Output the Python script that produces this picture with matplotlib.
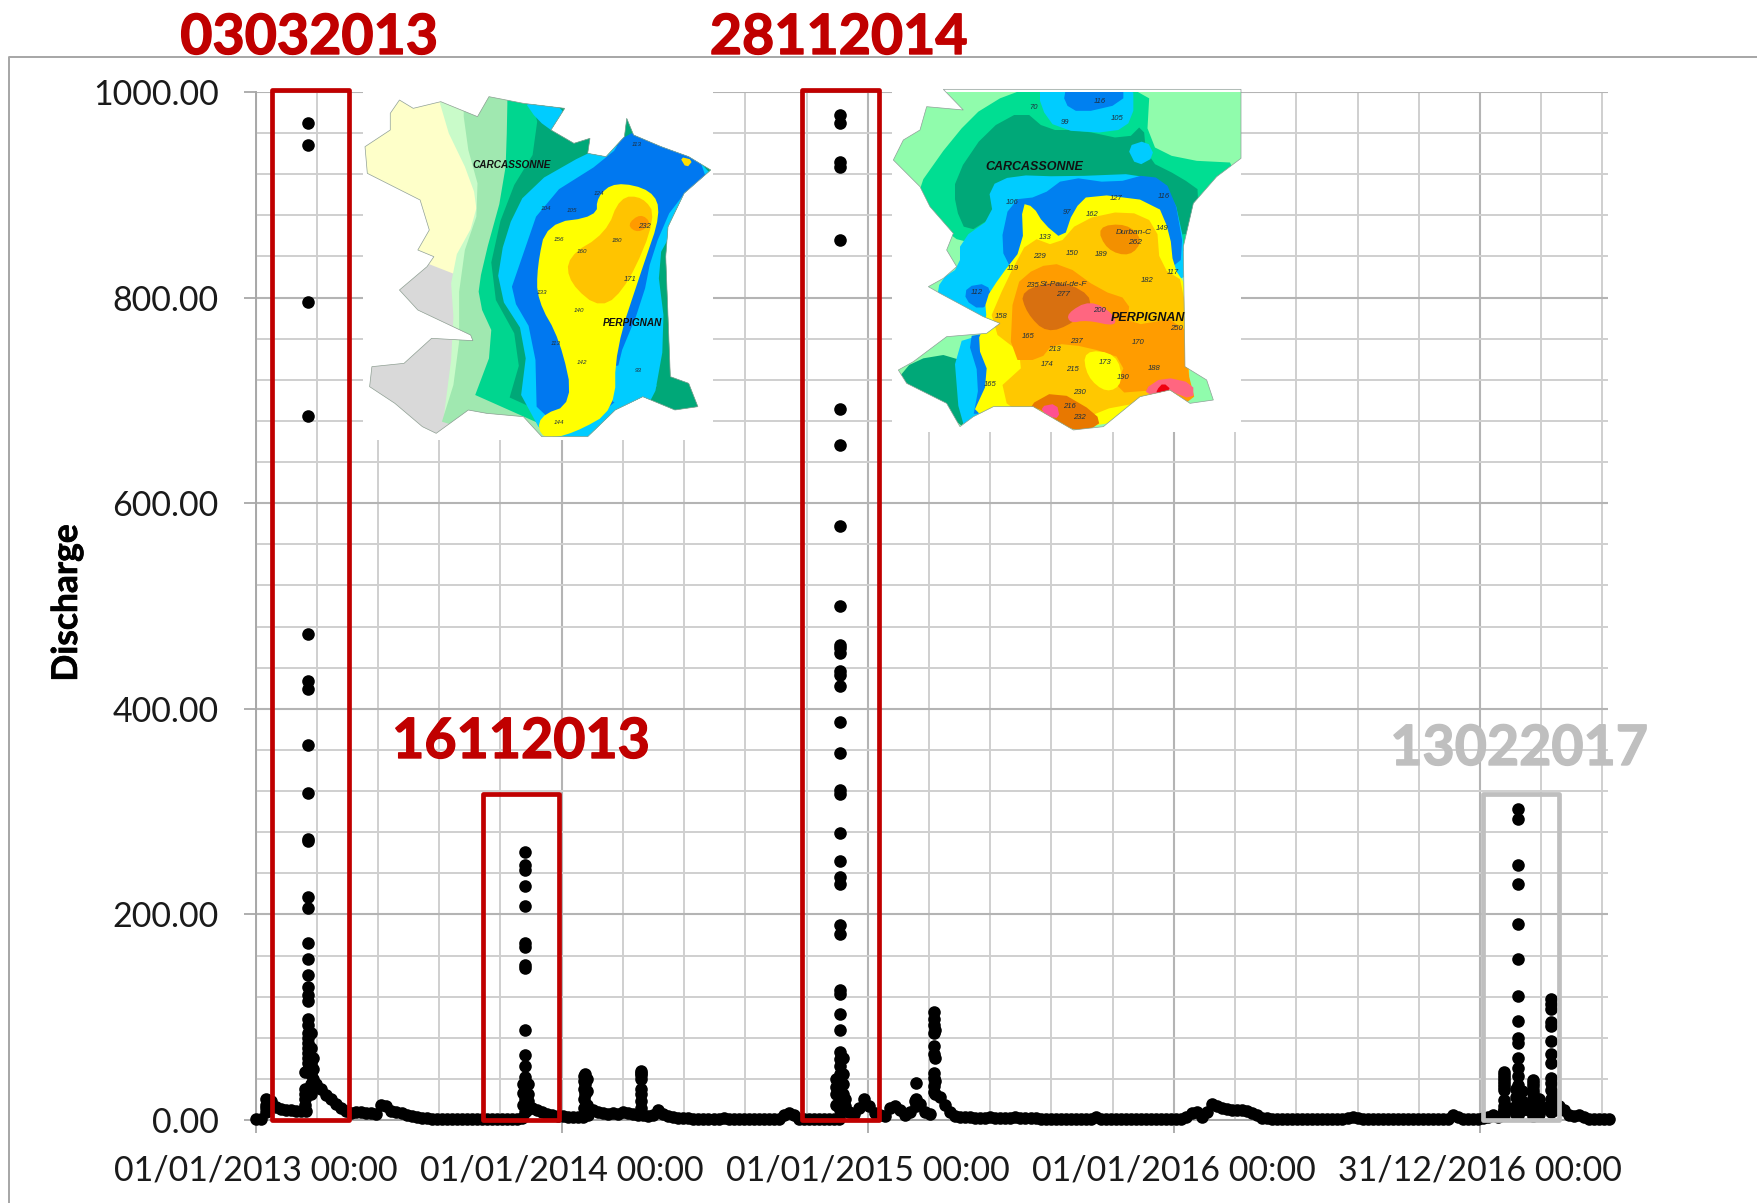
import numpy as np
import matplotlib
matplotlib.use("Agg")
import matplotlib.pyplot as plt
from matplotlib.patches import Polygon, Rectangle
from matplotlib.lines import Line2D
from matplotlib.path import Path
import matplotlib.patheffects as pe
import matplotlib.transforms as mtransforms

plt.rcParams['font.family'] = ['Lato', 'DejaVu Sans']
W, H = 1758, 1203

# ---------- data (days since 01/01/2013, discharge) ----------
tick_days = [0, 365, 730, 1095, 1460]
tick_labels = ["01/01/2013 00:00", "01/01/2014 00:00", "01/01/2015 00:00",
               "01/01/2016 00:00", "31/12/2016 00:00"]
y_ticks = [0, 200, 400, 600, 800, 1000]

# background flow, one value every 6 days
base_values = [
    1, 1, 12, 18, 13, 11, 10, 10, 9, 9,
    9, 30, 35, 30, 24, 20, 16, 12, 9, 7,
    8, 8, 7, 7, 6, 15, 14, 9, 8, 7,
    5, 4, 3, 2, 2, 1, 1, 1, 1, 1,
    1, 1, 1, 1, 1, 1, 1, 1, 1, 1,
    1, 1, 1, 2, 10, 12, 10, 8, 6, 5,
    4, 4, 3, 3, 3, 3, 5, 10, 8, 7,
    6, 7, 6, 8, 7, 6, 5, 5, 4, 5,
    10, 6, 4, 3, 2, 2, 2, 1, 1, 1,
    1, 1, 1, 2, 1, 1, 1, 1, 1, 1,
    1, 1, 1, 1, 1, 5, 7, 5, 1, 1,
    1, 1, 1, 1, 1, 1, 1, 10, 8, 6,
    12, 20, 14, 7, 5, 4, 12, 14, 10, 5,
    8, 18, 16, 8, 6, 25, 22, 15, 8, 4,
    3, 3, 3, 2, 2, 2, 3, 2, 2, 2,
    2, 3, 2, 2, 2, 2, 1, 1, 1, 1,
    1, 1, 1, 1, 1, 1, 1, 3, 1, 1,
    1, 1, 1, 1, 1, 1, 1, 1, 1, 1,
    1, 1, 1, 1, 1, 3, 7, 8, 3, 8,
    16, 14, 12, 11, 10, 10, 10, 9, 7, 5,
    2, 2, 1, 1, 1, 1, 1, 1, 1, 1,
    1, 1, 1, 1, 1, 1, 1, 2, 3, 2,
    1, 1, 1, 1, 1, 1, 1, 1, 1, 1,
    1, 1, 1, 1, 1, 1, 1, 1, 5, 3,
    1, 1, 1, 1, 2, 3, 5, 3, 10, 12,
    10, 12, 14, 10, 8, 9, 12, 14, 10, 14,
    10, 5, 4, 5, 3, 1, 1, 1, 1, 1,
]
base_step = 6

ev1_day, ev1_vals = 63, [970, 948, 796, 685, 473, 427, 419, 365, 318, 273, 271, 217, 206, 172, 157,
                         141, 129, 122, 116, 98, 92, 85, 80, 75, 70, 65, 60, 55, 50, 47]
ev2_day, ev2_vals = 321, [261, 248, 243, 228, 208, 172, 168, 151, 148, 88, 63, 53, 42, 35, 26, 20, 14, 8]
ev3_day, ev3_vals = 697, [978, 970, 932, 927, 856, 692, 657, 578, 500, 462, 459, 454, 437, 433, 422, 387,
                          357, 321, 317, 279, 252, 236, 230, 190, 181, 126, 123, 103, 88, 66, 59, 53,
                          45, 37, 31, 26, 20, 15, 10]
ev4_day, ev4_vals = 1505, [303, 293, 248, 230, 191, 157, 121, 96, 80, 75, 60, 51, 43, 34, 26, 18, 10, 5]

side_days = [12, 59, 66, 68, 319, 325, 392, 393, 395, 459, 460, 692, 700, 703, 787, 809, 810,
             1488, 1503, 1510, 1523, 1530, 1545, 1548]
side_vals = [[20, 15, 8], [47, 30, 25, 20, 15], [85, 70, 55, 45, 35, 25], [60, 50, 40],
             [35, 26, 15], [35, 25, 18, 12],
             [43, 38, 30, 20, 12], [45, 35, 25], [40, 28, 15], [48, 44, 40, 30], [46, 25, 18, 12],
             [40, 32, 25, 15], [60, 45, 35, 25, 18], [20, 14, 9],
             [36, 20, 14], [105, 98, 92, 85, 72, 64, 46, 41, 33, 27], [88, 60, 38],
             [47, 44, 41, 38, 35, 32, 29, 19, 14, 10, 5], [30, 22, 14, 6], [28, 18, 10],
             [39, 36, 33, 29, 26, 21, 16, 12, 8, 4], [20, 12, 6],
             [118, 113, 108, 95, 91, 77, 64, 55, 41, 36, 29, 20, 14, 8], [25, 15, 10]]

box_days = [(20, 111), (271, 362), (652, 743), (1463, 1554)]
box_tops = [1002, 317, 1002, 317]
box_colors = ["#C00000", "#C00000", "#C00000", "#BFBFBF"]
box_names = ["03032013", "16112013", "28112014", "13022017"]
name_xy = [(309, 38), (521, 742), (838.5, 38), (1519, 749)]

# ---------- assemble points ----------
xs = list(np.arange(len(base_values)) * base_step)
ys = list(base_values)
for d, vals in [(ev1_day, ev1_vals), (ev2_day, ev2_vals), (ev3_day, ev3_vals), (ev4_day, ev4_vals)]:
    xs += [d] * len(vals)
    ys += vals
for d, vals in zip(side_days, side_vals):
    xs += [d] * len(vals)
    ys += vals

# ---------- axes: px per day 0.8386, 0 at px 255.6 ----------
fig = plt.figure(figsize=(W / 100, H / 100), dpi=100)
left, right, top, bottom = 255.6, 1607.5, 92, 1120
ax = fig.add_axes([left / W, 1 - bottom / H, (right - left) / W, (bottom - top) / H])
ax.set_xlim(0, 1612)
ax.set_ylim(0, 1000)
ax.set_xticks(tick_days)
ax.set_xticklabels(tick_labels, fontsize=24.5, color="#1a1a1a")
ax.set_xticks(np.arange(73, 1607, 73), minor=True)
ax.set_yticks(y_ticks)
ax.set_yticklabels([f"{v:.2f}" for v in y_ticks], fontsize=24.5, color="#1a1a1a")
ax.set_yticks(np.arange(40, 1000, 40), minor=True)
ax.tick_params(axis='both', which='major', length=9, width=1.3, color="#A8A8A8")
ax.tick_params(axis='y', which='major', pad=17.5)
ax.tick_params(axis='x', which='major', pad=16)
ax.tick_params(axis='both', which='minor', length=0)
ax.grid(True, which='minor', color="#CFCFCF", lw=1.4)
ax.grid(True, which='major', color="#B4B4B4", lw=1.5)
ax.set_axisbelow(True)
for s in ['top', 'right']:
    ax.spines[s].set_visible(False)
for s in ['left', 'bottom']:
    ax.spines[s].set_color("#A8A8A8")
    ax.spines[s].set_linewidth(1.4)

ax.scatter(xs, ys, s=82, c="black", linewidths=0, zorder=5, clip_on=False)

for (d0, d1), t, c in zip(box_days, box_tops, box_colors):
    ax.add_patch(Rectangle((d0, 0), d1 - d0, t, fill=False, ec=c, lw=3.4, zorder=6,
                           clip_on=False, joinstyle='round'))

ax.set_ylabel("Discharge", fontsize=25.5, fontweight='bold',
              path_effects=[pe.withStroke(linewidth=0.5, foreground="black")])
ax.yaxis.set_label_coords((83 - left) / (right - left), (bottom - 603) / (bottom - top))

for name, (x, y), c in zip(box_names, name_xy, box_colors):
    fig.text(x / W, 1 - y / H, name, color=c, fontsize=40, fontweight='bold', ha='center',
             va='center', zorder=7, path_effects=[pe.withStroke(linewidth=1.0, foreground=c)])

# outer frame
fig.add_artist(Line2D([9 / W, 9 / W, 1], [0, 1 - 57 / H, 1 - 57 / H], color="#A6A6A6", lw=1.4))

# ---------- inset maps, in picture pixels ----------
px = mtransforms.Affine2D().scale(1 / W, -1 / H).translate(0, 1) + fig.transFigure


def chaikin(pts, n=2):
    p = np.asarray(pts, float)
    for _ in range(n):
        q = np.roll(p, -1, axis=0)
        p = np.column_stack([0.75 * p + 0.25 * q, 0.25 * p + 0.75 * q]).reshape(-1, 2)
    return p


def draw_map(outline, layers, to_px, rect, texts, z=2):
    ax.add_patch(Rectangle((rect[0], rect[1]), rect[2] - rect[0], rect[3] - rect[1], fc="white", ec="none",
                           transform=px, zorder=z, clip_on=False))
    op = Polygon(to_px(np.array(outline, float)), closed=True, transform=px)
    clip = Path(op.get_xy())
    for pts, col, smooth in layers:
        p = to_px(chaikin(pts, smooth) if smooth else np.array(pts, float))
        patch = Polygon(p, closed=True, fc=col, ec="none", transform=px, zorder=z + 0.1, clip_on=True)
        ax.add_patch(patch)
        patch.set_clip_path(clip, px)
    ax.add_patch(Polygon(op.get_xy(), closed=True, fill=False, ec="#8f9f98", lw=0.5, transform=px,
                         zorder=z + 0.2, clip_on=False))
    for (x, y, s, fs, w) in texts:
        xy = to_px(np.array([[x, y]], float))[0]
        ax.text(xy[0], xy[1], s, transform=px, fontsize=fs, ha='center', va='center', zorder=z + 0.3,
                family='Liberation Sans', style='italic', fontweight='bold' if w else 'normal',
                color="#111111" if w else "#1f3040", clip_on=False)


def m1(p):
    return np.column_stack([p[:, 0] / 2.178, p[:, 1] / 3])


def m2(p):
    return np.column_stack([780 + p[:, 0] / 3, 60 + p[:, 1] / 3])


map1_outline = [(870, 300), (900, 325), (960, 305), (1040, 350), (1065, 290), (1140, 310), (1230, 325), (1200, 390),
                (1250, 430), (1285, 415), (1280, 460), (1320, 470), (1360, 410), (1365, 355), (1380, 405), (1440, 440),
                (1500, 470), (1548, 510), (1490, 580), (1455, 680), (1450, 770), (1460, 1130), (1500, 1150), (1520, 1220),
                (1470, 1230), (1400, 1190), (1340, 1230), (1280, 1310), (1180, 1310), (1140, 1250), (1060, 1240),
                (1020, 1230), (950, 1300), (920, 1280), (860, 1210), (805, 1160), (810, 1100), (880, 1090), (940, 1015),
                (1030, 1022), (1025, 1005), (910, 930), (870, 870), (930, 800), (945, 770), (910, 750), (935, 690),
                (915, 600), (800, 520), (795, 440), (850, 390), (850, 340)]


def band(curve, col):
    return (curve + [(1700, 1400), (1700, 200)], col, 1)


map1_layers = [
    ([(700, 200), (1700, 200), (1700, 1400), (700, 1400)], "#FEFFC9", 0),
    ([(700, 800), (930, 790), (1060, 860), (1060, 1400), (700, 1400)], "#D9D9D9", 0),
    band([(955, 200), (960, 350), (1030, 550), (1040, 650), (980, 800), (990, 1000), (960, 1320)], "#C9FBC9"),
    band([(1010, 200), (1010, 400), (1050, 600), (1000, 800), (1000, 1100), (950, 1320)], "#A0E8B0"),
    band([(1105, 200), (1105, 350), (1100, 550), (1050, 800), (1040, 900), (1080, 1020), (1020, 1240)], "#00D68F"),
    band([(1140, 200), (1180, 420), (1100, 600), (1060, 850), (1140, 1050), (1100, 1240)], "#00A878"),
    ([(1140, 300), (1230, 310), (1210, 400), (1170, 360)], "#00CCFF", 1),
    ([(1290, 450), (1150, 560), (1100, 700), (1080, 870), (1150, 1020), (1130, 1240), (1300, 1400), (1420, 1230),
      (1450, 1000), (1430, 780), (1470, 680), (1520, 570), (1560, 510), (1420, 420), (1330, 440)], "#00CCFF", 1),
    ([(1330, 470), (1180, 600), (1130, 800), (1110, 880), (1165, 1010), (1170, 1290), (1340, 1240), (1340, 1100),
      (1400, 900), (1420, 760), (1470, 600), (1560, 510), (1420, 400), (1360, 400)], "#0078F0", 1),
    ([(1320, 1100), (1400, 1090), (1440, 1180), (1340, 1240)], "#00CCFF", 1),
    ([(1340, 545), (1420, 570), (1440, 640), (1400, 800), (1340, 1050), (1340, 1230), (1250, 1300), (1180, 1320),
      (1170, 1250), (1250, 1210), (1220, 1020), (1170, 900), (1170, 800), (1190, 670), (1300, 650), (1300, 590)],
     "#FFFF00", 2),
    ([(1350, 590), (1400, 590), (1430, 650), (1370, 850), (1310, 930), (1240, 850), (1235, 770), (1320, 700)],
     "#FFC400", 2),
    ([(1395, 640), (1420, 670), (1390, 700), (1365, 675)], "#FF9A00", 2),
    ([(1480, 470), (1510, 480), (1495, 505)], "#FFE000", 1),
]
map1_texts = [(1115, 495, "CARCASSONNE", 7.2, True), (1378, 970, "PERPIGNAN", 7.2, True),
              (1404, 678, "232", 5.5, False), (1372, 838, "171", 5.5, False), (1218, 718, "156", 4.5, False),
              (1268, 755, "160", 4.5, False), (1345, 722, "180", 4.5, False), (1262, 933, "140", 4.5, False),
              (1268, 1087, "142", 4.5, False), (1210, 1030, "113", 4.5, False), (1180, 878, "133", 4.5, False),
              (1305, 580, "124", 4.5, False), (1245, 630, "105", 4.5, False), (1190, 625, "104", 4.5, False),
              (1388, 433, "113", 4.5, False), (1218, 1268, "144", 4.5, False), (1390, 1112, "93", 4.5, False)]
draw_map(map1_outline, map1_layers, m1, (363, 92, 713, 440), map1_texts)

map2_outline = [(490, 88), (1383, 88), (1383, 295), (1310, 350), (1240, 430), (1210, 560), (1215, 920), (1280, 960),
                (1300, 1020), (1230, 1030), (1170, 990), (1080, 1010), (970, 1100), (880, 1110), (760, 1040), (640, 1040),
                (580, 1070), (540, 1100), (500, 1030), (380, 970), (355, 930), (400, 905), (500, 830), (620, 820),
                (660, 790), (610, 770), (480, 700), (445, 680), (490, 655), (530, 620), (500, 570), (520, 520), (450, 440),
                (420, 380), (340, 300), (370, 240), (420, 210), (440, 140), (550, 150)]
map2_layers = [
    ([(300, 60), (1400, 60), (1400, 1120), (300, 1120)], "#90FCAC", 0),
    ([(400, 400), (520, 230), (620, 130), (780, 70), (1110, 70), (1100, 250), (1200, 300), (1400, 310), (1280, 480),
      (1210, 600), (800, 560), (560, 560), (440, 470)], "#00DE92", 1),
    ([(525, 350), (620, 210), (730, 150), (800, 210), (900, 210), (1040, 240), (1090, 190), (1100, 300), (1200, 350),
      (1270, 400), (1210, 560), (1000, 450), (700, 400), (640, 470), (560, 520), (525, 440)], "#00A878", 1),
    ([(350, 960), (400, 900), (520, 880), (570, 950), (560, 1110), (500, 1060)], "#00A878", 1),
    ([(780, 70), (1060, 70), (1060, 180), (1000, 220), (830, 210), (780, 140)], "#00CCFF", 1),
    ([(1040, 260), (1100, 240), (1125, 290), (1070, 320)], "#00CCFF", 1),
    ([(860, 70), (1030, 70), (1030, 130), (900, 160), (850, 130)], "#0080F0", 1),
    ([(625, 380), (700, 345), (850, 350), (1100, 340), (1180, 400), (1215, 560), (1215, 680), (640, 800), (470, 720),
      (480, 660), (540, 620), (540, 540), (640, 470)], "#00CCFF", 1),
    ([(860, 350), (1000, 370), (1110, 340), (1180, 390), (1215, 590), (1165, 630), (790, 560), (700, 640), (660, 560),
      (690, 420), (780, 410)], "#0080F0", 1),
    ([(560, 680), (620, 670), (640, 720), (600, 750), (555, 720)], "#0080F0", 1),
    ([(520, 850), (620, 820), (650, 960), (590, 1100), (540, 1100)], "#00CCFF", 1),
    ([(560, 830), (620, 820), (650, 960), (575, 1095), (600, 960)], "#0080F0", 1),
    ([(725, 430), (760, 440), (790, 490), (850, 540), (880, 450), (930, 400), (1130, 425), (1170, 520), (1180, 620),
      (1220, 680), (1230, 1050), (800, 1120), (570, 1080), (630, 950), (590, 850), (620, 780), (615, 720), (660, 650),
      (730, 560)], "#FFFF00", 1),
    ([(750, 530), (830, 560), (900, 480), (1040, 450), (1130, 490), (1140, 620), (1220, 670), (1230, 1040), (1050, 1020),
      (800, 1120), (640, 1000), (750, 900), (620, 800), (680, 660)], "#FFC800", 1),
    ([(770, 620), (850, 610), (960, 690), (1050, 720), (1040, 800), (1210, 770), (1220, 920), (1250, 1040), (1130, 990),
      (1000, 1000), (1040, 900), (920, 860), (820, 850), (780, 900), (690, 900), (700, 680)], "#FF9C00", 1),
    ([(950, 500), (1040, 490), (1090, 540), (1050, 590), (980, 570)], "#F39000", 2),
    ([(740, 1040), (830, 990), (950, 1060), (960, 1100), (870, 1115), (790, 1050)], "#E87800", 1),
    ([(910, 870), (1010, 880), (1030, 970), (980, 1000), (920, 950)], "#FFFF00", 2),
    ([(720, 690), (850, 660), (950, 720), (880, 790), (800, 820), (740, 760)], "#D87010", 2),
    ([(860, 760), (930, 720), (1000, 760), (1010, 800), (920, 780), (870, 790)], "#FF6680", 2),
    ([(1090, 990), (1150, 950), (1240, 970), (1240, 1020), (1160, 990), (1120, 1010)], "#FF6680", 1),
    ([(1130, 990), (1150, 968), (1175, 990), (1130, 1005)], "#F00010", 1),
    ([(780, 1040), (830, 1030), (840, 1075), (800, 1070)], "#FF5090", 1),
]
map2_texts = [(764, 322, "CARCASSONNE", 9.0, True), (1105, 775, "PERPIGNAN", 9.0, True),
              (960, 124, "116", 5.5, False), (854, 188, "99", 5.5, False), (1012, 177, "105", 5.5, False),
              (760, 143, "70", 5.5, False), (697, 426, "106", 5.5, False), (860, 457, "97", 5.5, False),
              (1008, 416, "127", 5.5, False), (1152, 410, "116", 5.5, False), (938, 465, "162", 5.5, False),
              (1062, 518, "Durban-C", 6, False), (1064, 548, "262", 6, False), (1147, 507, "149", 5.5, False),
              (795, 532, "133", 5.5, False), (778, 588, "229", 5.5, False), (878, 580, "150", 5.5, False),
              (963, 582, "189", 5.5, False), (1102, 660, "182", 5.5, False), (1180, 636, "117", 5.5, False),
              (698, 625, "119", 5.5, False), (592, 697, "112", 5.5, False), (850, 672, "St-Paul-de-F", 6, False),
              (850, 702, "277", 6, False), (757, 676, "235", 5.5, False), (957, 750, "200", 5.5, False),
              (663, 770, "158", 5.5, False), (744, 830, "165", 5.5, False), (888, 845, "237", 5.5, False),
              (1075, 848, "170", 5.5, False), (1188, 805, "250", 5.5, False), (824, 868, "213", 5.5, False),
              (802, 913, "174", 5.5, False), (878, 928, "215", 5.5, False), (977, 907, "173", 5.5, False),
              (1124, 925, "188", 5.5, False), (1030, 952, "190", 5.5, False), (632, 975, "165", 5.5, False),
              (897, 997, "230", 5.5, False), (868, 1040, "216", 5.5, False), (898, 1073, "232", 5.5, False)]
draw_map(map2_outline, map2_layers, m2, (892, 90, 1241, 432), map2_texts)

fig.savefig("out.png", dpi=100, facecolor="white")
